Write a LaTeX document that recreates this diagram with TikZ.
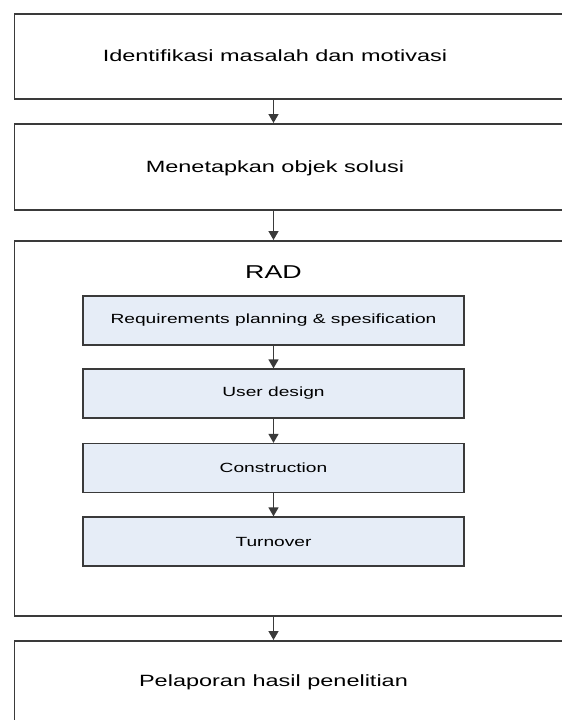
\documentclass[tikz,border=0pt]{standalone}
\usepackage{fontspec}
\usepackage{tikz}
\usetikzlibrary{arrows.meta,positioning}
\newfontfamily\arialx[FakeStretch=1.44]{Liberation Sans}
\definecolor{radfill}{HTML}{E6EDF7}
\definecolor{frameline}{HTML}{3A3A3A}

\begin{document}
\begin{tikzpicture}[x=1pt,y=-1pt,
 every node/.style={font=\arialx},
 frame/.style={draw=frameline,line width=1.5pt,anchor=north west,minimum width=600pt,inner sep=0pt},
 stepbox/.style={draw=frameline,line width=1.3pt,fill=radfill,minimum width=381pt,minimum height=49pt,inner sep=0pt,font=\arialx\fontsize{13.3}{15}\selectfont},
 lbl/.style={inner sep=0pt,font=\arialx\fontsize{16.3}{19}\selectfont},
 edge/.style={-{Triangle[width=10pt,length=9pt]},line width=1.5pt,draw=frameline}
]
\useasboundingbox (0,0) rectangle (562,720);
\clip (0,0) rectangle (562,720);
\coordinate (ax) at (273.5,0);

\node[frame,minimum height=85pt] (idf) at (13.5,13) {};
\node[lbl] (idft) at (275,56) {Identifikasi masalah dan motivasi};
\node[frame,minimum height=86pt] (mts) at (13.5,123) {};
\node[lbl] (mtst) at (275,168) {Menetapkan objek solusi};
\draw[edge] (idf.south -| ax) -- (mts.north -| ax);

\node[frame,minimum height=375pt] (rad) at (13.5,240) {};
\node[lbl,font=\arialx\fontsize{18.6}{22}\selectfont] (radt) at (273.5,272) {RAD};
\draw[edge] (mts.south -| ax) -- (rad.north -| ax);

\node[stepbox] (req) at (273.5,320.5) {Requirements planning \& spesification};
\node[stepbox] (usr) at (273.5,393.5) {User design};
\node[stepbox] (con) at (273.5,468) {Construction};
\node[stepbox] (trn) at (273.5,541.5) {Turnover};
\draw[edge] (req)--(usr); \draw[edge] (usr)--(con); \draw[edge] (con)--(trn);

\node[frame,minimum height=86pt] (lap) at (13.5,640) {};
\node[lbl] (lapt) at (273.5,682) {Pelaporan hasil penelitian};
\draw[edge] (rad.south -| ax) -- (lap.north -| ax);
\end{tikzpicture}
\end{document}
